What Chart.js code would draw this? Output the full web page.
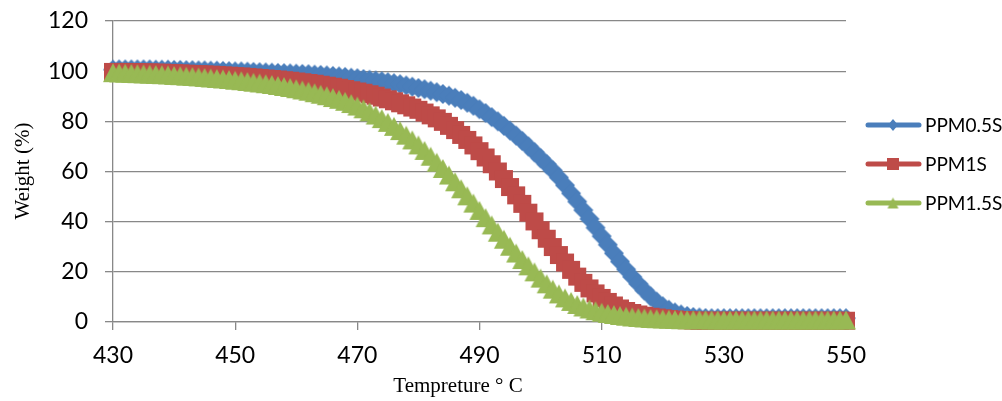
<!DOCTYPE html>
<html lang="en">
<head>
  <meta charset="UTF-8">
  <title>Weight vs Tempreture</title>
  <script src="https://cdn.jsdelivr.net/npm/chart.js"></script>
  <style>
    body { margin: 0; background: #fff; }
    #contenedor { width: 1002px; height: 401px; }
  </style>
</head>
<body>
  <div id="contenedor">
    <canvas id="grafico" width="1002" height="401"></canvas>
  </div>

  <script>
    // Temperaturas (categorias del eje X)
    const temperaturas = [
      430, 431, 432, 433, 434, 435, 436, 437, 438, 439,
      440, 441, 442, 443, 444, 445, 446, 447, 448, 449,
      450, 451, 452, 453, 454, 455, 456, 457, 458, 459,
      460, 461, 462, 463, 464, 465, 466, 467, 468, 469,
      470, 471, 472, 473, 474, 475, 476, 477, 478, 479,
      480, 481, 482, 483, 484, 485, 486, 487, 488, 489,
      490, 491, 492, 493, 494, 495, 496, 497, 498, 499,
      500, 501, 502, 503, 504, 505, 506, 507, 508, 509,
      510, 511, 512, 513, 514, 515, 516, 517, 518, 519,
      520, 521, 522, 523, 524, 525, 526, 527, 528, 529,
      530, 531, 532, 533, 534, 535, 536, 537, 538, 539,
      540, 541, 542, 543, 544, 545, 546, 547, 548, 549,
      550
    ];

    const pesoPPM05S = [
      100.6, 100.7, 100.7, 100.7, 100.7, 100.7, 100.7, 100.6, 100.6, 100.6,
      100.5, 100.5, 100.4, 100.4, 100.3, 100.3, 100.2, 100.2, 100.1, 100.0,
      99.9, 99.9, 99.8, 99.7, 99.6, 99.5, 99.4, 99.3, 99.2, 99.1,
      99.0, 98.9, 98.8, 98.6, 98.5, 98.3, 98.1, 97.9, 97.7, 97.4,
      97.2, 96.9, 96.6, 96.3, 96.0, 95.6, 95.2, 94.8, 94.3, 93.8,
      93.3, 92.8, 92.2, 91.6, 90.9, 90.2, 89.4, 88.5, 87.4, 86.2,
      84.8, 83.3, 81.7, 80.0, 78.2, 76.3, 74.3, 72.2, 70.0, 67.7,
      65.3, 62.9, 60.4, 57.6, 54.5, 51.3, 48.0, 44.6, 41.1, 37.6,
      34.2, 30.8, 27.4, 24.1, 21.0, 18.0, 15.2, 12.6, 10.2, 8.1,
      6.3, 4.9, 3.8, 3.0, 2.4, 2.0, 1.8, 1.6, 1.5, 1.5,
      1.5, 1.5, 1.5, 1.5, 1.5, 1.5, 1.5, 1.5, 1.5, 1.5,
      1.5, 1.5, 1.5, 1.5, 1.5, 1.5, 1.5, 1.5, 1.5, 1.5,
      1.5
    ];

    const pesoPPM1S = [
      99.7, 99.7, 99.7, 99.6, 99.6, 99.5, 99.5, 99.4, 99.4, 99.3,
      99.2, 99.1, 99.0, 98.9, 98.8, 98.7, 98.6, 98.5, 98.3, 98.2,
      98.0, 97.9, 97.7, 97.5, 97.3, 97.1, 96.9, 96.7, 96.4, 96.2,
      95.9, 95.6, 95.3, 95.0, 94.6, 94.2, 93.8, 93.4, 92.9, 92.4,
      91.9, 91.4, 90.8, 90.2, 89.5, 88.8, 88.0, 87.2, 86.4, 85.5,
      84.6, 83.5, 82.4, 81.2, 79.8, 78.2, 76.5, 74.6, 72.6, 70.4,
      68.1, 65.6, 62.9, 60.0, 57.0, 53.8, 50.5, 47.1, 43.6, 40.1,
      36.6, 33.2, 29.9, 26.7, 23.7, 20.8, 18.1, 15.6, 13.4, 11.4,
      9.6, 8.0, 6.6, 5.4, 4.4, 3.6, 3.0, 2.5, 2.1, 1.8,
      1.5, 1.2, 1.0, 0.8, 0.7, 0.6, 0.5, 0.5, 0.5, 0.5,
      0.5, 0.5, 0.5, 0.5, 0.5, 0.5, 0.5, 0.5, 0.5, 0.5,
      0.5, 0.5, 0.5, 0.5, 0.5, 0.5, 0.5, 0.5, 0.5, 0.5,
      0.5
    ];

    const pesoPPM15S = [
      99.4, 99.3, 99.2, 99.1, 99.0, 98.9, 98.8, 98.7, 98.6, 98.5,
      98.3, 98.2, 98.0, 97.9, 97.7, 97.5, 97.3, 97.1, 96.9, 96.7,
      96.4, 96.2, 95.9, 95.6, 95.3, 95.0, 94.7, 94.3, 93.9, 93.5,
      93.0, 92.5, 92.0, 91.4, 90.8, 90.2, 89.5, 88.8, 88.0, 87.1,
      86.1, 85.0, 83.8, 82.5, 81.1, 79.6, 78.0, 76.3, 74.5, 72.6,
      70.6, 68.4, 66.1, 63.7, 61.2, 58.6, 55.9, 53.1, 50.3, 47.4,
      44.5, 41.6, 38.7, 35.8, 33.0, 30.2, 27.5, 24.9, 22.4, 20.0,
      17.5, 15.2, 13.1, 11.2, 9.6, 8.2, 7.0, 6.0, 5.2, 4.5,
      3.9, 3.4, 3.0, 2.6, 2.3, 2.0, 1.8, 1.6, 1.4, 1.3,
      1.2, 1.1, 1.0, 0.9, 0.9, 0.9, 0.9, 0.9, 0.8, 0.8,
      0.8, 0.8, 0.8, 0.8, 0.8, 0.8, 0.8, 0.8, 0.8, 0.8,
      0.8, 0.8, 0.8, 0.8, 0.8, 0.8, 0.8, 0.8, 0.8, 0.8,
      0.8
    ];

    const etiquetasSeries = ['PPM0.5S', 'PPM1S', 'PPM1.5S'];
    const coloresSeries = ['#4a7ebb', '#be4b48', '#98b954'];

    // Marcadores estilo Excel (centrados en su caja)
    function crearMarcador(forma, color, w, h) {
      const c = document.createElement('canvas');
      c.width = Math.ceil(w) + 2;
      c.height = Math.ceil(h) + 2;
      const ctx = c.getContext('2d');
      const cx = c.width / 2, cy = c.height / 2;
      ctx.fillStyle = color;
      ctx.beginPath();
      if (forma === 'diamante') {
        ctx.moveTo(cx, cy - h / 2);
        ctx.lineTo(cx + w / 2, cy);
        ctx.lineTo(cx, cy + h / 2);
        ctx.lineTo(cx - w / 2, cy);
      } else if (forma === 'cuadrado') {
        ctx.rect(cx - w / 2, cy - h / 2, w, h);
      } else {
        ctx.moveTo(cx, cy - h / 2);
        ctx.lineTo(cx + w / 2, cy + h / 2);
        ctx.lineTo(cx - w / 2, cy + h / 2);
      }
      ctx.closePath();
      ctx.fill();
      return c;
    }

    const marcadores = [
      crearMarcador('diamante', coloresSeries[0], 20, 20),
      crearMarcador('cuadrado', coloresSeries[1], 18, 18),
      crearMarcador('triangulo', coloresSeries[2], 20, 19)
    ];
    const marcadoresLeyenda = [
      crearMarcador('diamante', coloresSeries[0], 10, 12),
      crearMarcador('cuadrado', coloresSeries[1], 12, 12),
      crearMarcador('triangulo', coloresSeries[2], 11, 11)
    ];

    function aPuntos(valores) {
      return temperaturas.map((t, i) => ({ x: t, y: valores[i] }));
    }

    // Leyenda y titulos de ejes dibujados a mano
    const pluginExtras = {
      id: 'extras',
      afterDraw(chart) {
        const ctx = chart.ctx;
        ctx.save();
        ctx.fillStyle = '#000';
        ctx.font = '21px "Liberation Serif"';
        ctx.textAlign = 'center';
        ctx.textBaseline = 'middle';
        ctx.fillText('Tempreture \u00b0 C', 458, 386);
        ctx.translate(23, 171);
        ctx.rotate(-Math.PI / 2);
        ctx.fillText('Weight (%)', 0, 0);
        ctx.restore();

        const filas = [125, 164, 203];
        ctx.save();
        etiquetasSeries.forEach((nombre, i) => {
          const y = filas[i];
          ctx.strokeStyle = coloresSeries[i];
          ctx.lineWidth = 5;
          ctx.lineCap = 'round';
          ctx.beginPath();
          ctx.moveTo(868, y);
          ctx.lineTo(919, y);
          ctx.stroke();
          const m = marcadoresLeyenda[i];
          ctx.drawImage(m, 893 - m.width / 2, y - m.height / 2);
          ctx.fillStyle = '#000';
          ctx.font = '19px Lato';
          ctx.textAlign = 'left';
          ctx.textBaseline = 'middle';
          ctx.fillText(nombre, 925, y + 1);
        });
        ctx.restore();
      }
    };

    const seriesDatos = [pesoPPM05S, pesoPPM1S, pesoPPM15S];

    new Chart(document.getElementById('grafico'), {
      type: 'line',
      data: {
        datasets: seriesDatos.map((valores, i) => ({
          label: etiquetasSeries[i],
          data: aPuntos(valores),
          borderColor: coloresSeries[i],
          backgroundColor: coloresSeries[i],
          borderWidth: 4,
          pointStyle: marcadores[i],
          pointRadius: 10,
          clip: false,
          order: 3 - i
        }))
      },
      options: {
        responsive: false,
        animation: false,
        events: [],
        layout: { padding: { top: 21, right: 156, left: 0, bottom: 0 } },
        plugins: {
          legend: { display: false },
          tooltip: { enabled: false }
        },
        scales: {
          x: {
            type: 'linear',
            min: 430,
            max: 550,
            afterFit: s => { s.height = 79; },
            ticks: {
              stepSize: 20,
              color: '#000',
              padding: 12,
              maxRotation: 0,
              font: { family: 'Lato', size: 23 }
            },
            grid: {
              drawOnChartArea: false,
              drawTicks: true,
              tickLength: 8,
              color: '#888',
              lineWidth: 1.3
            },
            border: { color: '#888', width: 1.3 }
          },
          y: {
            min: 0,
            max: 120,
            afterFit: s => {
              s.width = 113;
              // el padding de las etiquetas no debe empujar el area
              s.paddingTop = 0;
              s.paddingBottom = 0;
            },
            ticks: {
              stepSize: 20,
              color: '#000',
              padding: 17,
              font: { family: 'Lato', size: 23 }
            },
            grid: {
              tickLength: 8,
              color: '#888',
              lineWidth: 1.3
            },
            border: { color: '#888', width: 1.3 }
          }
        }
      },
      plugins: [pluginExtras]
    });
  </script>
</body>
</html>
